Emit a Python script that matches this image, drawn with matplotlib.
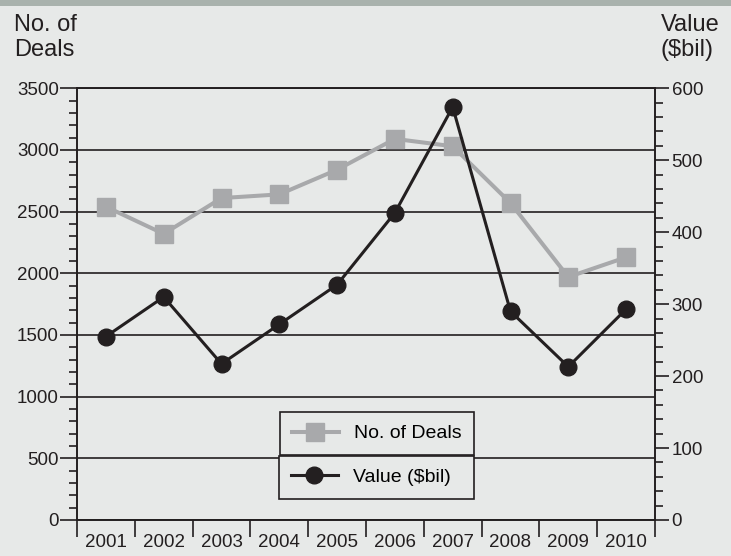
import matplotlib
matplotlib.use('Agg')
import matplotlib.pyplot as plt
from matplotlib.lines import Line2D
from matplotlib.patches import Rectangle
from matplotlib.ticker import MultipleLocator, FixedLocator, NullFormatter

years = ['2001', '2002', '2003', '2004', '2005', '2006', '2007', '2008', '2009', '2010']
deals = [2540, 2320, 2610, 2640, 2840, 3090, 3030, 2570, 1970, 2130]
value_bil = [255, 310, 217, 272, 327, 427, 574, 290, 213, 293]

bg = '#e7e9e8'
ink = '#231f20'
grey = '#a8a9ab'
W, H = 731, 556

plt.rcParams['font.family'] = ['Liberation Sans', 'DejaVu Sans']

fig = plt.figure(figsize=(W / 100, H / 100), dpi=100, facecolor=bg)
fig.patches.append(Rectangle((0, 1 - 6 / H), 1, 6 / H, transform=fig.transFigure,
                             facecolor='#a9b2ad', edgecolor='none'))
ax = fig.add_axes([77 / W, 1 - 520 / H, (655 - 77) / W, (520 - 88.3) / H])
ax.set_facecolor(bg)
ax2 = ax.twinx()

x = list(range(len(years)))
ax.plot(x, deals, color=grey, lw=2.9, marker='s', ms=12.5, zorder=3)
ax2.plot(x, value_bil, color=ink, lw=2.2, marker='o', ms=12, zorder=3)

ax.set_xlim(-0.5, 9.5)
ax.set_ylim(0, 3500)
ax2.set_ylim(0, 600)

for a in (ax, ax2):
    for s in a.spines.values():
        s.set_color(ink)
        s.set_linewidth(1.2)

ax.yaxis.set_major_locator(MultipleLocator(500))
ax.yaxis.set_minor_locator(MultipleLocator(100))
ax.grid(axis='y', which='major', color=ink, lw=1.2)
ax.set_axisbelow(True)
ax.tick_params(axis='y', which='major', length=12, width=1.2, color=ink,
               labelsize=13.5, labelcolor=ink, pad=1)
ax.tick_params(axis='y', which='minor', length=6, width=1.2, color=ink)

ax2.yaxis.set_major_locator(MultipleLocator(100))
ax2.yaxis.set_minor_locator(MultipleLocator(20))
ax2.tick_params(axis='y', which='major', length=10, width=1.2, color=ink,
                labelsize=13.5, labelcolor=ink, pad=2)
ax2.tick_params(axis='y', which='minor', length=6, width=1.2, color=ink)

ax.xaxis.set_major_locator(FixedLocator([i - 0.5 for i in range(len(years) + 1)]))
ax.xaxis.set_major_formatter(NullFormatter())
ax.xaxis.set_minor_locator(FixedLocator(x))
ax.set_xticklabels(years, minor=True)
ax.tick_params(axis='x', which='major', length=12, width=1.2, color=ink)
ax.tick_params(axis='x', which='minor', length=0, labelsize=13.5, labelcolor=ink, pad=10)

fig.text(14 / W, 1 - 14 / H, 'No. of\nDeals', ha='left', va='top', fontsize=17,
         color=ink, linespacing=1.15)
fig.text(661 / W, 1 - 14 / H, 'Value\n($bil)', ha='left', va='top', fontsize=17,
         color=ink, linespacing=1.15)

h1 = Line2D([], [], color=grey, lw=2.9, marker='s', ms=12.5)
h2 = Line2D([], [], color=ink, lw=2.2, marker='o', ms=12)
common = dict(loc='lower left', mode='expand', fontsize=14, frameon=True,
              fancybox=False, facecolor=bg, edgecolor=ink, framealpha=1,
              handlelength=2.4, handletextpad=0.8, borderpad=0.65, borderaxespad=0,
              bbox_transform=fig.transFigure)
leg1 = ax2.legend([h1], ['No. of Deals'],
                  bbox_to_anchor=(279.5 / W, 1 - 455 / H, 194 / W, 43 / H), **common)
leg1.get_frame().set_linewidth(1.2)
ax2.add_artist(leg1)
leg2 = ax2.legend([h2], ['Value ($bil)'],
                  bbox_to_anchor=(278.5 / W, 1 - 498.5 / H, 195 / W, 42 / H), **common)
leg2.get_frame().set_linewidth(1.2)

fig.savefig('out.png', dpi=100, facecolor=bg)
